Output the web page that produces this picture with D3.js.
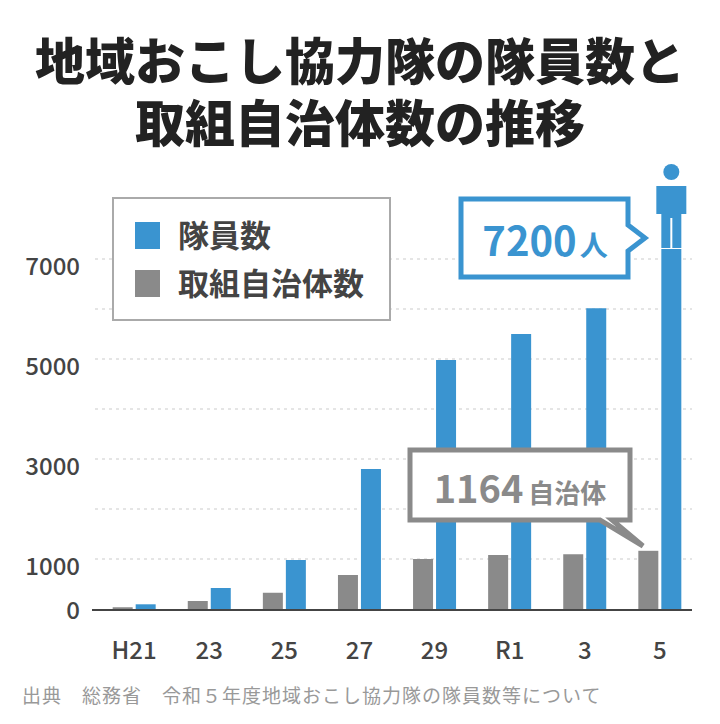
<!DOCTYPE html>
<html><head><meta charset="utf-8">
<script src="https://cdn.jsdelivr.net/npm/d3@7"></script>
<style>body{margin:0;background:#fff}text{font-family:"Noto Sans CJK JP","Noto Sans",sans-serif}</style>
</head><body><svg id="c" width="720" height="724"></svg>
<script>
const years = ['H21','23','25','27','29','R1','3','5'];
const members = [94, 420, 980, 2800, 4980, 5500, 6015, 7200];
const towns = [35, 160, 325, 680, 1000, 1080, 1095, 1164];
const yTicks = [0, 1000, 3000, 5000, 7000];
const gridVals = [1000, 2000, 3000, 4000, 5000, 6000, 7000];

const BLUE = '#3a94d0', GRAY = '#8a8a8a', TXT = '#444';
const svg = d3.select('#c');

// title
['地域おこし協力隊の隊員数と', '取組自治体数の推移'].forEach((t, i) => {
  svg.append('text').attr('x', 360).attr('y', 80 + i * 62)
    .attr('text-anchor', 'middle').attr('font-size', 50).attr('font-weight', 900)
    .attr('fill', '#222').text(t);
});

const x = d3.scaleBand().domain(years).range([97, 697]).paddingInner(0.47).paddingOuter(0.23);
const y = d3.scaleLinear().domain([0, 7000]).range([609, 259]);

// grid
svg.selectAll('.grid').data(gridVals).enter().append('line')
  .attr('x1', 95).attr('x2', 692).attr('y1', d => y(d)).attr('y2', d => y(d))
  .attr('stroke', '#ddd').attr('stroke-width', 1.5).attr('stroke-dasharray', '3,4');

// y labels
svg.selectAll('.yl').data(yTicks).enter().append('text')
  .attr('x', 80).attr('y', d => y(d) + (d === 0 ? 10 : 16))
  .attr('text-anchor', 'end').attr('font-size', 24).attr('font-weight', 500)
  .attr('fill', TXT).text(d => d);

// bars
const bw = 20;
svg.selectAll('.g').data(towns).enter().append('rect')
  .attr('x', (d, i) => x(years[i]) + x.bandwidth() / 2 - bw - 1.5).attr('width', bw)
  .attr('y', d => y(d)).attr('height', d => y(0) - y(d)).attr('fill', GRAY);
svg.selectAll('.b').data(members).enter().append('rect')
  .attr('x', (d, i) => x(years[i]) + x.bandwidth() / 2 + 1.5).attr('width', bw)
  .attr('y', d => y(d)).attr('height', d => y(0) - y(d)).attr('fill', BLUE);

// axis
svg.append('line').attr('x1', 92).attr('x2', 692).attr('y1', 610).attr('y2', 610)
  .attr('stroke', '#444').attr('stroke-width', 2);
svg.selectAll('.xl').data(years).enter().append('text')
  .attr('x', d => x(d) + x.bandwidth() / 2).attr('y', 659)
  .attr('text-anchor', 'middle').attr('font-size', 24).attr('font-weight', 500)
  .attr('fill', TXT).text(d => d);

// legend
svg.append('rect').attr('x', 113).attr('y', 198).attr('width', 277).attr('height', 122)
  .attr('fill', '#fff').attr('stroke', '#aaa').attr('stroke-width', 2);
[['隊員数', BLUE], ['取組自治体数', GRAY]].forEach((d, i) => {
  svg.append('rect').attr('x', 135).attr('y', 222 + i * 48).attr('width', 25).attr('height', 27).attr('fill', d[1]);
  svg.append('text').attr('x', 178).attr('y', 247 + i * 48).attr('font-size', 31)
    .attr('font-weight', 700).attr('fill', TXT).text(d[0]);
});

// blue callout
const last = years.length - 1;
svg.append('path')
  .attr('d', 'M461,199 H628 V225 L645,238 L628,251 V277 H461 Z')
  .attr('fill', '#fff').attr('stroke', BLUE).attr('stroke-width', 5);
const t1 = svg.append('text').attr('x', 545).attr('y', 256).attr('text-anchor', 'middle')
  .attr('fill', BLUE).attr('font-weight', 700);
t1.append('tspan').attr('font-size', 40).text(members[last]);
t1.append('tspan').attr('font-size', 28).attr('dx', 3).text('人');

// person icon above last bar
const px = x(years[last]) + x.bandwidth() / 2 + 1.5 + bw / 2;
svg.append('circle').attr('cx', px).attr('cy', 172).attr('r', 8).attr('fill', BLUE);
svg.append('path')
  .attr('d', `M${px-15},186 H${px+15} V214 H${px+10} V248 H${px+1} V218 H${px-1} V248 H${px-10} V214 H${px-15} Z`)
  .attr('fill', BLUE);

// gray callout
svg.append('path')
  .attr('d', 'M410,450 H630 V520 H612 L643,546 L600,520 H410 Z')
  .attr('fill', '#fff').attr('stroke', GRAY).attr('stroke-width', 5).attr('stroke-linejoin', 'miter');
const t2 = svg.append('text').attr('x', 520).attr('y', 503).attr('text-anchor', 'middle')
  .attr('fill', GRAY).attr('font-weight', 700);
t2.append('tspan').attr('font-size', 38).text(towns[last]);
t2.append('tspan').attr('font-size', 26).attr('dx', 5).text('自治体');

// source
svg.append('text').attr('x', 22).attr('y', 703).attr('font-size', 19).attr('fill', '#999')
  .attr('letter-spacing', 1).text('出典　総務省　令和５年度地域おこし協力隊の隊員数等について');
</script></body></html>
